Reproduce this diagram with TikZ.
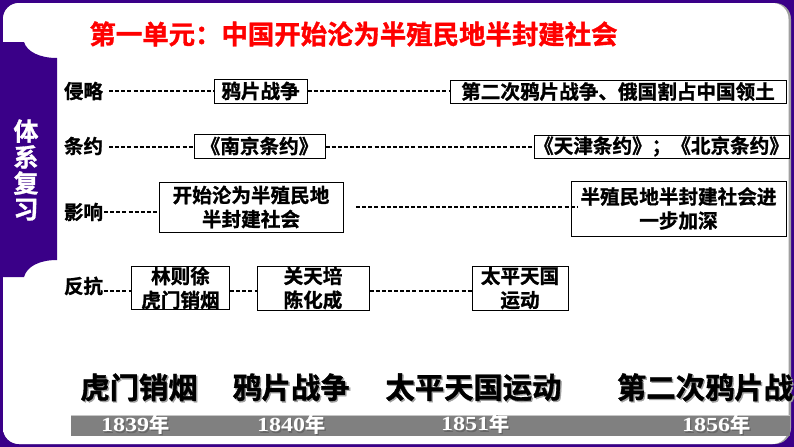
\documentclass[tikz,border=0pt]{standalone}
\usepackage{fontspec}
\setmainfont{Noto Sans CJK SC}[BoldFont=* Bold,BoldFeatures={FakeBold=1.2}]
\newfontfamily\yearfont{Liberation Serif}[BoldFont=* Bold,BoldFeatures={FakeStretch=1.2}]
\definecolor{framepurple}{HTML}{3A0088}
\definecolor{barGray}{HTML}{808080}
\definecolor{shadowGray}{HTML}{A0A0A0}
\newcommand{\shtxt}[2][shadowGray]{\rlap{\kern1pt\raisebox{-1pt}{\textcolor{#1}{#2}}}#2}
\newcommand{\yr}[1]{{\yearfont\bfseries #1}年}
\tikzset{
  rowlabel/.style={font=\bfseries\fontsize{14.6}{14.6}\selectfont,inner sep=0pt,anchor=center},
  boxnode/.style={draw=black,line width=0.75pt,fill=white,inner sep=0pt,align=center,
     font=\bfseries\fontsize{14.7}{18}\selectfont},
  dashline/.style={draw=black,line width=0.9pt,dash pattern=on 3pt off 1.6pt},
  caption/.style={font=\bfseries\fontsize{22}{22}\selectfont,inner sep=0pt,anchor=center},
  yearlabel/.style={font=\bfseries\fontsize{15}{15}\selectfont,text=white,inner sep=0pt,anchor=center},
}
\begin{document}
\begin{tikzpicture}[x=0.75pt,y=-0.75pt]
\useasboundingbox (0,0) rectangle (794,447);
% frame
\fill[framepurple] (0,0) rectangle (794,447);
\fill[shadowGray,rounded corners=12] (3,3) rectangle (791,444);
\fill[white,rounded corners=12] (3,3) rectangle (788.5,444);
\fill[white] (3,30) rectangle (30,432);
% sidebar
\fill[framepurple] (0,42) -- (24,42) .. controls (27,52) and (40,58) .. (57,58) -- (57,260)
  .. controls (40,260) and (27,266) .. (24,277) -- (0,277) -- cycle;
\node[font=\bfseries\fontsize{18.75}{19.5}\selectfont,text=white,align=center,inner sep=0pt] (side) at (26,170) {体\\系\\复\\习};
% title
\node[font=\bfseries\fontsize{19.8}{20}\selectfont,text=red,inner sep=0pt] (title) at (353.5,34) {第一单元：中国开始沦为半殖民地半封建社会};
% row labels
\node[rowlabel] (l1) at (83.5,91) {侵略};
\node[rowlabel] (l2) at (83.5,146) {条约};
\node[rowlabel] (l3) at (83.5,212) {影响};
\node[rowlabel] (l4) at (83.5,286) {反抗};
% boxes
\node[boxnode,minimum width=69.75pt,minimum height=18pt] (a1) at (260.5,91) {鸦片战争};
\node[boxnode,minimum width=252pt,minimum height=17.25pt] (a2) at (618,91.5) {第二次鸦片战争、俄国割占中国领土};
\node[boxnode,minimum width=98.25pt,minimum height=18pt] (b1) at (259.5,146) {《南京条约》};
\node[boxnode,minimum width=191.25pt,minimum height=17.25pt] (b2) at (661.5,146.5) {《天津条约》；《北京条约》};
\node[boxnode,minimum width=138pt,minimum height=37.5pt] (c1) at (251,207) {开始沦为半殖民地\\半封建社会};
\node[boxnode,minimum width=161.25pt,minimum height=41.25pt] (c2) at (678.5,208.5) {半殖民地半封建社会进\\一步加深};
\node[boxnode,minimum width=73.5pt,minimum height=31.5pt] (d1) at (180.5,288) {林则徐\\虎门销烟};
\node[boxnode,minimum width=84pt,minimum height=33pt] (d2) at (313,288) {关天培\\陈化成};
\node[boxnode,minimum width=72pt,minimum height=33pt] (d3) at (520,288) {太平天国\\运动};
% connectors
\coordinate (s1) at (109,91);
\coordinate (s2) at (109,147);
\coordinate (s3) at (104,212);
\coordinate (s4) at (104,291);
\coordinate (s5) at (356,207);
\coordinate (e5) at (577,207);
\draw[dashline] (s1) -- (a1.west);
\draw[dashline] (a1.east) -- (s1 -| a2.west);
\draw[dashline] (s2) -- (s2 -| b1.west);
\draw[dashline] (s2 -| b1.east) -- (s2 -| b2.west);
\draw[dashline] (s3) -- (s3 -| c1.west);
\draw[dashline] (s5) -- (e5);
\draw[dashline] (s4) -- (s4 -| d1.west);
\draw[dashline] (s4 -| d1.east) -- (s4 -| d2.west);
\draw[dashline] (s4 -| d2.east) -- (s4 -| d3.west);
% timeline
\fill[barGray] (71,415) rectangle (790,436);
\draw[shadowGray!60,line width=0.6pt] (71,415) -- (790,415);
\node[caption] (t1) at (139,388) {\shtxt{虎门销烟}};
\node[caption] (t2) at (291,388) {\shtxt{鸦片战争}};
\node[caption] (t3) at (473.5,388) {\shtxt{太平天国运动}};
\node[caption] (t4) at (705,388) {\shtxt{第二次鸦片战}};
\node[yearlabel] (y1) at (135,425) {\shtxt[black!60]{\yr{1839}}};
\node[yearlabel] (y2) at (291,425) {\shtxt[black!60]{\yr{1840}}};
\node[yearlabel] (y3) at (475,424) {\shtxt[black!60]{\yr{1851}}};
\node[yearlabel] (y4) at (716,425) {\shtxt[black!60]{\yr{1856}}};
\end{tikzpicture}
\end{document}
